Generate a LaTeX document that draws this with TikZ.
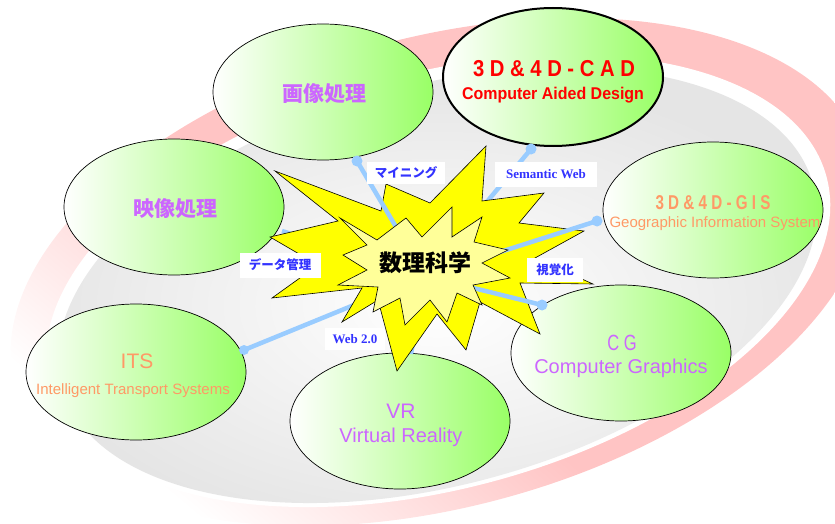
\documentclass[tikz,border=0pt]{standalone}
\usepackage{fontspec}
\setmainfont{Liberation Sans}
\newfontfamily\jp{Noto Sans CJK JP}
\newfontfamily\ser{Liberation Serif}
\usetikzlibrary{shapes.geometric}
\definecolor{gR}{HTML}{99FF66}
\definecolor{gM}{HTML}{DDFFCC}
\definecolor{pinkR}{HTML}{FFC4C4}
\definecolor{purp}{HTML}{CC66FF}
\definecolor{salm}{HTML}{FF9966}
\definecolor{lblue}{HTML}{99CCFF}
\definecolor{tblue}{HTML}{3333FF}
\definecolor{ystar}{HTML}{FFFF00}
\definecolor{ylight}{HTML}{FFFF99}
\pgfdeclareverticalshading{ringshade}{100bp}{color(0bp)=(white); color(27bp)=(white); color(47bp)=(pinkR); color(100bp)=(pinkR)}
\begin{document}
\begin{tikzpicture}[x=1pt,y=-1pt,
  bubble/.style={ellipse, draw=black, line width=0.7pt, minimum width=220pt, minimum height=136pt, inner sep=0pt, left color=white, middle color=gM, right color=gR},
  conn/.style={draw=lblue, line width=4.5pt},
  tag/.style={fill=white, text=tblue, inner sep=0pt, anchor=center},
  jpt/.style={font=\jp\bfseries\fontsize{12.5}{12.5}\selectfont},
  set/.style={font=\ser\bfseries\fontsize{13}{13}\selectfont, text height=9pt, text depth=0pt},
  txt/.style={anchor=base, inner sep=0pt}
]
\useasboundingbox (0,0) rectangle (835,524);
% background rings
\begin{scope}[shift={(440,272)},rotate=15]
  \shade[shading=ringshade, shading angle=-40] (0,0) ellipse [x radius=440, y radius=235];
  \fill[white] (-4,8) ellipse [x radius=402, y radius=208];
  \shade[inner color=white, outer color=black!10] (-6,12) ellipse [x radius=389, y radius=200];
\end{scope}

% bubbles
\node[bubble] (img) at (323,92) {};
\node[bubble, line width=2pt, minimum height=138pt] (cad) at (553,77) {};
\node[bubble] (vid) at (174,207) {};
\node[bubble] (gis) at (713,210) {};
\node[bubble] (its) at (136,372) {};
\node[bubble] (vr) at (400,421) {};
\node[bubble] (cg) at (621,353) {};

% connector ends
\coordinate (hub) at (425,276);
\coordinate (dImg) at (357,161);
\coordinate (dCad) at (531,149);
\coordinate (dGis) at (597,221);
\coordinate (dCg) at (542,305);
\coordinate (dVr) at (411,354);
\coordinate (dIts) at (244,350);
\coordinate (dVid) at (282,231);

% connectors behind the burst
\draw[conn] (dCad) -- (hub);
\draw[conn] (dIts) -- (hub);
\draw[conn] (dVid) -- (hub);
\draw[conn] (dVr) -- (hub);
\fill[lblue] (dCad) circle [radius=5.5pt];
\fill[lblue] (dIts) circle [radius=5pt];

% outer burst
\draw[fill=ystar, line width=0.6pt, line join=miter]
  (486,146) -- (482,201) -- (544,193) -- (519,223) -- (584,231) -- (535,258)
  -- (593,284) -- (520,283) -- (540,334) -- (480,302) -- (466,350) -- (437,314)
  -- (397,371) -- (378,300) -- (342,322) -- (362,288) -- (272,298) -- (318,265)
  -- (270,237) -- (338,221) -- (275,171) -- (381,211) -- (386,184) -- (430,203) -- cycle;

% connectors over the burst
\draw[conn] (dImg) -- (hub);
\draw[conn] (dGis) -- (hub);
\draw[conn] (dCg) -- (hub);
\fill[lblue] (dImg) circle [radius=5.5pt];
\fill[lblue] (dGis) circle [radius=5.5pt];
\fill[lblue] (dCg) circle [radius=5.5pt];

% inner burst
\draw[fill=ylight, line width=0.6pt, line join=miter]
  (340,218) -- (377,240) -- (406,218) -- (422,237) -- (452,207) -- (452,237)
  -- (482,217) -- (474,242) -- (508,250) -- (482,263) -- (510,278) -- (473,285)
  -- (482,305) -- (457,293) -- (447,322) -- (430,300) -- (405,325) -- (400,298)
  -- (373,312) -- (378,287) -- (338,285) -- (367,270) -- (343,255) -- (367,245) -- cycle;

\node[font=\jp\bfseries\fontsize{23}{23}\selectfont, inner sep=0pt] (core) at (425,263) {数理科学};

% connector labels
\node[tag, jpt, minimum width=78pt, minimum height=22pt] (lMine) at (406,173) {マイニング};
\node[tag, set, minimum width=102pt, minimum height=25pt] (lSem) at (546,174) {Semantic Web};
\node[tag, jpt, minimum width=81pt, minimum height=25pt] (lData) at (280,265) {データ管理};
\node[tag, jpt, minimum width=56pt, minimum height=24pt] (lVis) at (555,270) {視覚化};
\node[tag, set, minimum width=60pt, minimum height=22pt] (lWeb) at (355,339) {Web 2.0};

% bubble texts
\node[text=purp, font=\jp\bfseries\fontsize{21}{21}\selectfont, inner sep=0pt] (tImg) at (324,94) {画像処理};
\node[text=purp, font=\jp\bfseries\fontsize{21}{21}\selectfont, inner sep=0pt] (tVid) at (175,209) {映像処理};
\node[txt, text=red, font=\bfseries\fontsize{23}{23}\selectfont] (tCad1) at (554,77) {\scalebox{0.88}[1]{3 D \& 4 D - C A D}};
\node[txt, text=red, font=\bfseries\fontsize{17}{17}\selectfont] (tCad2) at (553,100) {\scalebox{0.94}[1]{Computer Aided Design}};
\node[txt, text=salm, font=\bfseries\fontsize{20}{20}\selectfont] (tGis1) at (713,209) {\scalebox{0.76}[1]{3 D \& 4 D - G I S}};
\node[txt, text=salm, font=\fontsize{15}{15}\selectfont] (tGis2) at (715,227) {Geographic Information System};
\node[txt, text=salm, font=\fontsize{21}{21}\selectfont] (tIts1) at (137,368) {ITS};
\node[txt, text=salm, font=\fontsize{15}{15}\selectfont] (tIts2) at (133,394) {Intelligent Transport Systems};
\node[txt, text=purp, font=\fontsize{21}{21}\selectfont] (tVr1) at (401,418) {VR};
\node[txt, text=purp, font=\fontsize{20}{20}\selectfont] (tVr2) at (401,442) {Virtual Reality};
\node[txt, text=purp, font=\fontsize{22}{22}\selectfont] (tCg1) at (622,350) {\scalebox{0.75}[1]{C G}};
\node[txt, text=purp, font=\fontsize{20}{20}\selectfont] (tCg2) at (621,373) {Computer Graphics};
\end{tikzpicture}
\end{document}
